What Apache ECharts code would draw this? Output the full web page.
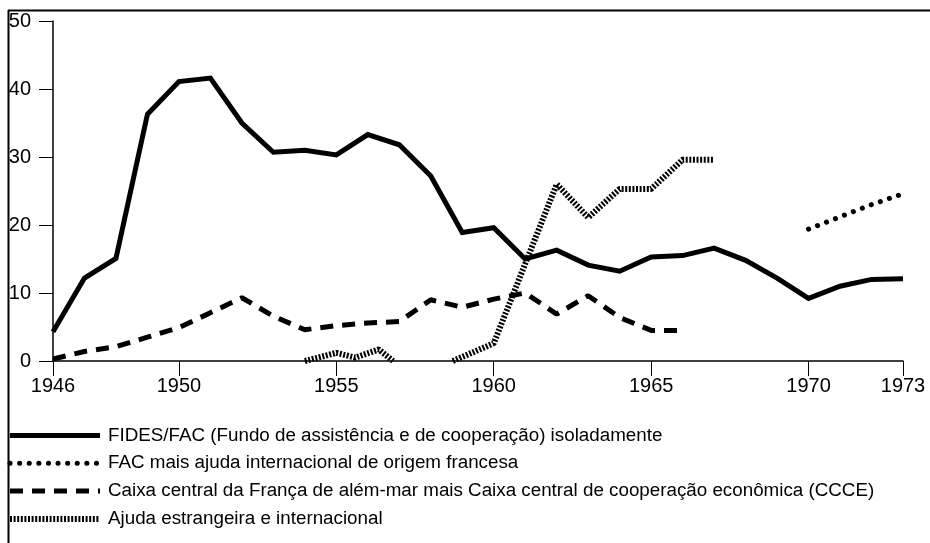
<!DOCTYPE html>
<html>
<head>
<meta charset="utf-8">
<script src="https://cdn.jsdelivr.net/npm/echarts@6/dist/echarts.min.js"></script>
<style>
html,body{margin:0;padding:0;background:#fff;}
#c{width:930px;height:543px;}
</style>
</head>
<body>
<div id="c"></div>
<script>
// ---- data ----
var seriesNames = [
  'FIDES/FAC (Fundo de assistência e de cooperação) isoladamente',
  'FAC mais ajuda internacional de origem francesa',
  'Caixa central da França de além-mar mais Caixa central de cooperação econômica (CCCE)',
  'Ajuda estrangeira e internacional'
];
var xTickYears = [1946, 1950, 1955, 1960, 1965, 1970, 1973];
var yTicks = [0, 10, 20, 30, 40, 50];

var fidesYears = [1946,1947,1948,1949,1950,1951,1952,1953,1954,1955,1956,1957,1958,1959,1960,1961,1962,1963,1964,1965,1966,1967,1968,1969,1970,1971,1972,1973];
var fidesValues = [4.3,12.2,15.1,36.3,41.1,41.6,35.0,30.7,31.0,30.3,33.3,31.8,27.2,18.9,19.6,15.0,16.3,14.1,13.2,15.3,15.5,16.6,14.8,12.2,9.2,11.0,12.0,12.1];

var facYears = [1970,1971,1972,1973];
var facValues = [19.4,21.2,23.0,24.6];

var caixaYears = [1946,1947,1948,1949,1950,1951,1952,1953,1954,1955,1956,1957,1958,1959,1960,1961,1962,1963,1964,1965,1966];
var caixaValues = [0.3,1.4,2.1,3.5,4.9,7.1,9.3,6.6,4.6,5.2,5.6,5.8,9.0,7.9,9.1,10.0,6.9,9.6,6.4,4.5,4.5];

var ajudaYears = [1954,1955,1955.6,1956.35,1956.8,1957.5,1958.7,1960,1962,1963,1964,1965,1966,1967];
var ajudaValues = [0,1.2,0.5,1.7,0,null,0,2.6,26.0,21.1,25.3,25.3,29.6,29.6];

function pairs(xs, ys){ return xs.map(function(x,i){ return [x, ys[i] === null ? '-' : ys[i]]; }); }

var FONT = '"Liberation Sans", Arial, Helvetica, sans-serif';
var chart = echarts.init(document.getElementById('c'), null, {renderer:'canvas'});
chart.setOption({
  animation: false,
  backgroundColor: '#fff',
  grid: {left: 53, right: 27, top: 21, bottom: 182, containLabel: false},
  xAxis: {
    type: 'value', min: 1946, max: 1973, interval: 1,
    splitLine: {show: false},
    axisLine: {show: true, lineStyle: {color: '#000', width: 1.5}},
    axisTick: {show: true, customValues: xTickYears, length: 15, lineStyle: {color: '#000', width: 1}},
    axisLabel: {customValues: xTickYears, color: '#000', fontSize: 20, fontFamily: FONT, margin: 15,
      formatter: function(v){ return String(v); }}
  },
  yAxis: {
    type: 'value', min: 0, max: 50, interval: 10,
    splitLine: {show: false},
    axisLine: {show: true, lineStyle: {color: '#000', width: 1.5}},
    axisTick: {show: true, length: 14, lineStyle: {color: '#000', width: 1}},
    axisLabel: {color: '#000', fontSize: 20, fontFamily: FONT, margin: 22}
  },
  legend: {
    orient: 'vertical', left: 7, top: 426, padding: 0,
    itemWidth: 90, itemHeight: 20, itemGap: 8.8,
    itemStyle: {opacity: 0},
    lineStyle: {width: 'inherit', type: 'inherit', cap: 'inherit'},
    textStyle: {color: '#000', fontSize: 18.8, fontFamily: FONT, padding: [0,0,0,3]},
    data: seriesNames
  },
  graphic: [
    {type: 'line', shape: {x1: 8, y1: 10.5, x2: 930, y2: 10.5}, style: {stroke: '#000', lineWidth: 2}, silent: true},
    {type: 'line', shape: {x1: 8.5, y1: 10, x2: 8.5, y2: 543}, style: {stroke: '#000', lineWidth: 2}, silent: true}
  ],
  series: [
    {name: seriesNames[0], type: 'line', data: pairs(fidesYears, fidesValues), symbol: 'none',
      lineStyle: {color: '#000', width: 5, type: 'solid', join: 'miter'}, itemStyle: {color: '#000'}},
    {name: seriesNames[1], type: 'line', data: pairs(facYears, facValues), symbol: 'none',
      lineStyle: {color: '#000', width: 5, type: [0.1, 9.5], cap: 'round'}, itemStyle: {color: '#000'}},
    {name: seriesNames[2], type: 'line', data: pairs(caixaYears, caixaValues), symbol: 'none',
      lineStyle: {color: '#000', width: 5, type: [13, 9], cap: 'butt'}, itemStyle: {color: '#000'}},
    {name: seriesNames[3], type: 'line', data: pairs(ajudaYears, ajudaValues), symbol: 'none', connectNulls: false,
      lineStyle: {color: '#000', width: 6, type: [2, 1.6], cap: 'butt'}, itemStyle: {color: '#000'}}
  ]
});
</script>
</body>
</html>
